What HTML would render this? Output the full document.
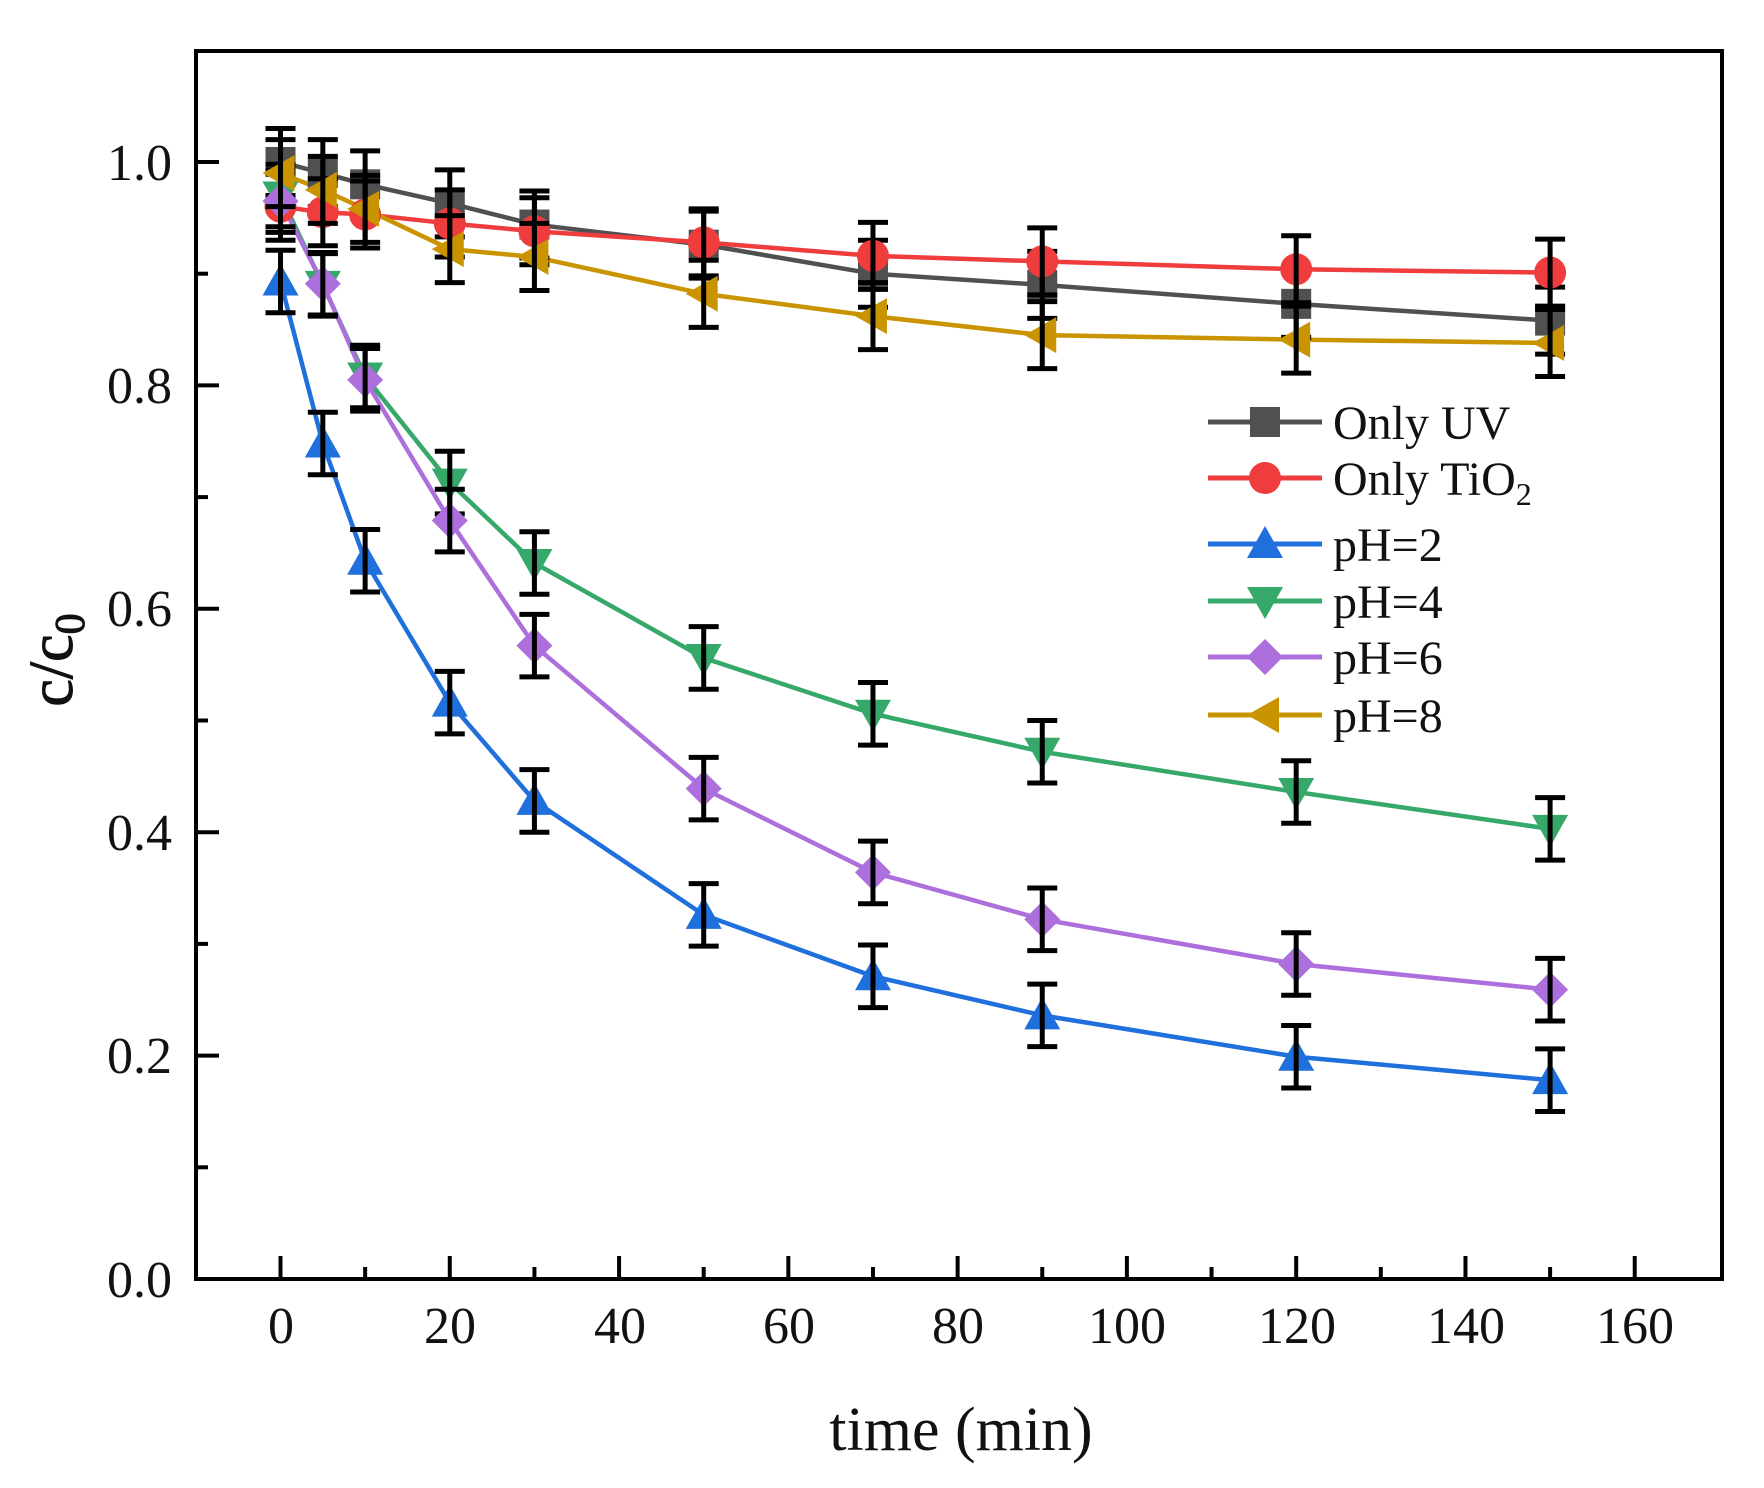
<!DOCTYPE html>
<html><head><meta charset="utf-8"><style>
html,body{margin:0;padding:0;background:#fff;}
svg{display:block;}
text{font-family:"Liberation Serif",serif;fill:#111;}
</style></head><body>
<svg id="s" width="1764" height="1488" viewBox="0 0 1764 1488" xmlns="http://www.w3.org/2000/svg">
<rect width="1764" height="1488" fill="#fff"/>
<g id="ticks"></g>
<g id="data"></g>
<rect x="196" y="51" width="1526" height="1228" fill="none" stroke="#000" stroke-width="4"/>
<g font-size="52" text-anchor="end">
<text x="172" y="1297">0.0</text>
<text x="172" y="1073">0.2</text>
<text x="172" y="850">0.4</text>
<text x="172" y="626">0.6</text>
<text x="172" y="403">0.8</text>
<text x="172" y="180">1.0</text>
</g>
<g font-size="52" text-anchor="middle">
<text x="281" y="1343">0</text>
<text x="450" y="1343">20</text>
<text x="620" y="1343">40</text>
<text x="789" y="1343">60</text>
<text x="958" y="1343">80</text>
<text x="1127" y="1343">100</text>
<text x="1297" y="1343">120</text>
<text x="1466" y="1343">140</text>
<text x="1635" y="1343">160</text>
</g>
<text x="961" y="1450" font-size="62" text-anchor="middle">time (min)</text>
<text transform="translate(72,660) rotate(-90)" font-size="62" text-anchor="middle" stroke="#111" stroke-width="1">c/c<tspan font-size="42" dy="12">0</tspan></text>
<g id="legend"></g>
<g font-size="48">
<text x="1333" y="439">Only UV</text>
<text x="1333" y="495">Only TiO<tspan font-size="32" dy="10">2</tspan></text>
<text x="1333" y="561">pH=2</text>
<text x="1333" y="618">pH=4</text>
<text x="1333" y="674">pH=6</text>
<text x="1333" y="732">pH=8</text>
</g>
</svg>
<script>
const NS="http://www.w3.org/2000/svg";
const X=t=>280.5+t*8.464, Y=v=>1279-v*1117;
function el(p,n,a){const e=document.createElementNS(NS,n);for(const k in a)e.setAttribute(k,a[k]);p.appendChild(e);return e;}
const tk=document.getElementById('ticks');
for(let i=0;i<=10;i++){const v=i*0.1,y=Y(v),L=i%2==0?23:12;el(tk,'line',{x1:196,x2:196+L,y1:y,y2:y,stroke:'#000','stroke-width':4});}
for(let t=0;t<=160;t+=10){const x=X(t),L=t%20==0?23:12;el(tk,'line',{x1:x,x2:x,y1:1279,y2:1279-L,stroke:'#000','stroke-width':4});}
const T=[0,5,10,20,30,50,70,90,120,150];
const S=[
{c:'#505050',m:'sq',d:[1.0,0.99,0.98,0.963,0.944,0.926,0.9,0.89,0.873,0.858],e:0.03},
{c:'#ef3c3c',m:'ci',d:[0.96,0.955,0.953,0.945,0.938,0.928,0.916,0.911,0.904,0.901],e:0.03},
{c:'#1f6fdc',m:'up',d:[0.893,0.748,0.643,0.516,0.428,0.326,0.271,0.236,0.199,0.178],e:0.028},
{c:'#35a86a',m:'dn',d:[0.97,0.89,0.808,0.713,0.641,0.556,0.506,0.472,0.436,0.403],e:0.028},
{c:'#ad6fdb',m:'di',d:[0.965,0.891,0.805,0.679,0.567,0.439,0.364,0.322,0.282,0.259],e:0.028},
{c:'#c99400',m:'lf',d:[0.99,0.975,0.958,0.922,0.915,0.882,0.862,0.845,0.841,0.838],e:0.03}];
function mk(g,m,x,y,c){const r=16;
 if(m=='sq')el(g,'rect',{x:x-r+1,y:y-r+1,width:2*r-2,height:2*r-2,fill:c});
 else if(m=='ci')el(g,'circle',{cx:x,cy:y,r:r,fill:c});
 else if(m=='up')el(g,'polygon',{points:`${x},${y-r-2} ${x+r+2},${y+r-2} ${x-r-2},${y+r-2}`,fill:c});
 else if(m=='dn')el(g,'polygon',{points:`${x},${y+r+2} ${x+r+2},${y-r+2} ${x-r-2},${y-r+2}`,fill:c});
 else if(m=='di')el(g,'polygon',{points:`${x},${y-r-2} ${x+r+2},${y} ${x},${y+r+2} ${x-r-2},${y}`,fill:c});
 else el(g,'polygon',{points:`${x-r-2},${y} ${x+r-2},${y-r-2} ${x+r-2},${y+r+2}`,fill:c});}
const g=document.getElementById('data');
S.forEach(s=>{el(g,'polyline',{points:T.map((t,i)=>X(t)+','+Y(s.d[i])).join(' '),fill:'none',stroke:s.c,'stroke-width':4.5});});
S.forEach(s=>{T.forEach((t,i)=>{const x=X(t),y=Y(s.d[i]);mk(g,s.m,x,y,s.c);
 const y1=Y(s.d[i]+s.e),y2=Y(s.d[i]-s.e);
 el(g,'line',{x1:x,x2:x,y1:y1,y2:y2,stroke:'#000','stroke-width':5});
 el(g,'line',{x1:x-15,x2:x+15,y1:y1,y2:y1,stroke:'#000','stroke-width':5});
 el(g,'line',{x1:x-15,x2:x+15,y1:y2,y2:y2,stroke:'#000','stroke-width':5});});});
const lg=document.getElementById('legend');
const LY=[422,478,544,601,657,715];
S.forEach((s,i)=>{const y=LY[i];el(lg,'line',{x1:1208,x2:1322,y1:y,y2:y,stroke:s.c,'stroke-width':5});mk(lg,s.m,1265,y,s.c);});
</script>
</body></html>
